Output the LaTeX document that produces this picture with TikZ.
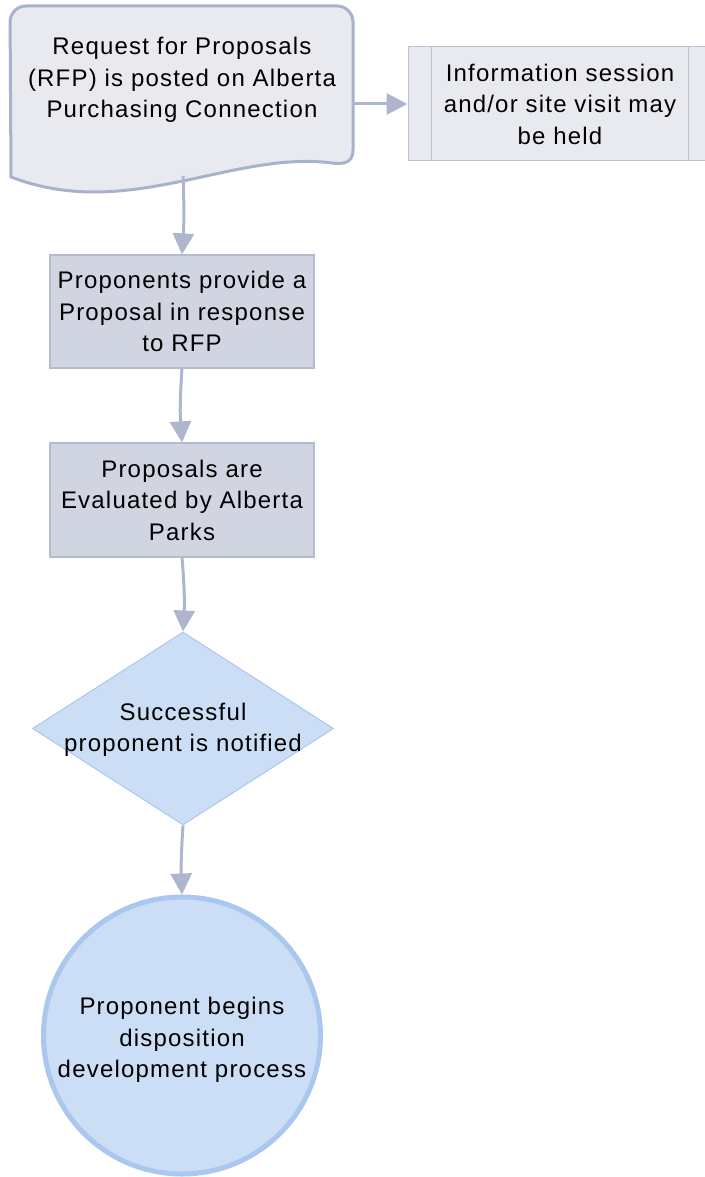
\documentclass[tikz,border=0pt]{standalone}
\usepackage{fontspec}
\setmainfont{Liberation Sans}[LetterSpace=5]
\usetikzlibrary{arrows.meta,shapes.geometric}
\definecolor{docfill}{HTML}{E8EAF0}
\definecolor{docline}{HTML}{A8B3CB}
\definecolor{boxfill}{HTML}{D1D5E2}
\definecolor{boxline}{HTML}{B3BBCF}
\definecolor{infoline}{HTML}{BAC1D1}
\definecolor{bluefill}{HTML}{CCDEF5}
\definecolor{blueline}{HTML}{A9C7EF}
\definecolor{arrowcol}{HTML}{ADB6CC}
\tikzset{
  txt/.style={align=center,font=\fontsize{24}{31.5}\selectfont,text=black,inner sep=0pt},
  procbox/.style={rectangle,draw=boxline,fill=boxfill,line width=1.2pt,minimum width=264pt,minimum height=113pt,inner sep=0pt},
  flow/.style={draw=arrowcol,line width=3pt,-{Triangle[length=21pt,width=21pt]}},
}
\begin{document}
\begin{tikzpicture}[x=1pt,y=-1pt]
\useasboundingbox (0,0) rectangle (704,1177);
% document shape
\draw[draw=docline,fill=docfill,line width=3pt,rounded corners=16pt]
  (11,177) -- (10,6) -- (353,6) [sharp corners] -- (353,150)
  .. controls (353,161) and (346,165) .. (332,163)
  .. controls (232,150) and (128,222) .. (11,177) -- cycle;
\node[txt] (rfp) at (182,80) {Request for Proposals\\(RFP) is posted on Alberta\\Purchasing Connection};
\coordinate (rfpbot) at (183,176);
\coordinate (rfpright) at (352,104);
% info box
\node[rectangle,draw=infoline,fill=docfill,line width=1pt,minimum width=298pt,minimum height=114pt,inner sep=0pt] (info) at (557,104) {};
\draw[infoline,line width=1pt] (431,47) -- (431,161) (688,47) -- (688,161);
\node[txt] (infotxt) at (560,104) {Information session\\and/or site visit may\\be held};
% process boxes
\node[procbox] (prop) at (182,311.5) {};
\node[txt] at (prop.center) {Proponents provide a\\Proposal in response\\to RFP};
\node[procbox,minimum height=114pt] (eval) at (182,500) {};
\node[txt] at (eval.center) {Proposals are\\Evaluated by Alberta\\Parks};
% decision
\node[diamond,draw=blueline,fill=bluefill,line width=1pt,minimum width=301pt,minimum height=193pt,aspect=1.56,inner sep=0pt] (dec) at (183,728.5) {};
\node[txt] at (183,730) {Successful\\proponent is notified};
% terminal
\node[circle,draw=blueline,fill=bluefill,line width=5pt,minimum size=277pt,inner sep=0pt] (fin) at (182,1035.5) {};
\node[txt] at (182,1040) {Proponent begins\\disposition\\development process};
% connectors
\draw[flow] (rfpright) -- (info.west);
\draw[flow] (rfpbot) to[bend left=3] (prop.north);
\draw[flow] (prop.south) to[bend right=4] (eval.north);
\draw[flow] (eval.south) to[bend left=4] (dec.north);
\draw[flow] (dec.south) to[bend right=3] (fin.north);
\end{tikzpicture}
\end{document}
